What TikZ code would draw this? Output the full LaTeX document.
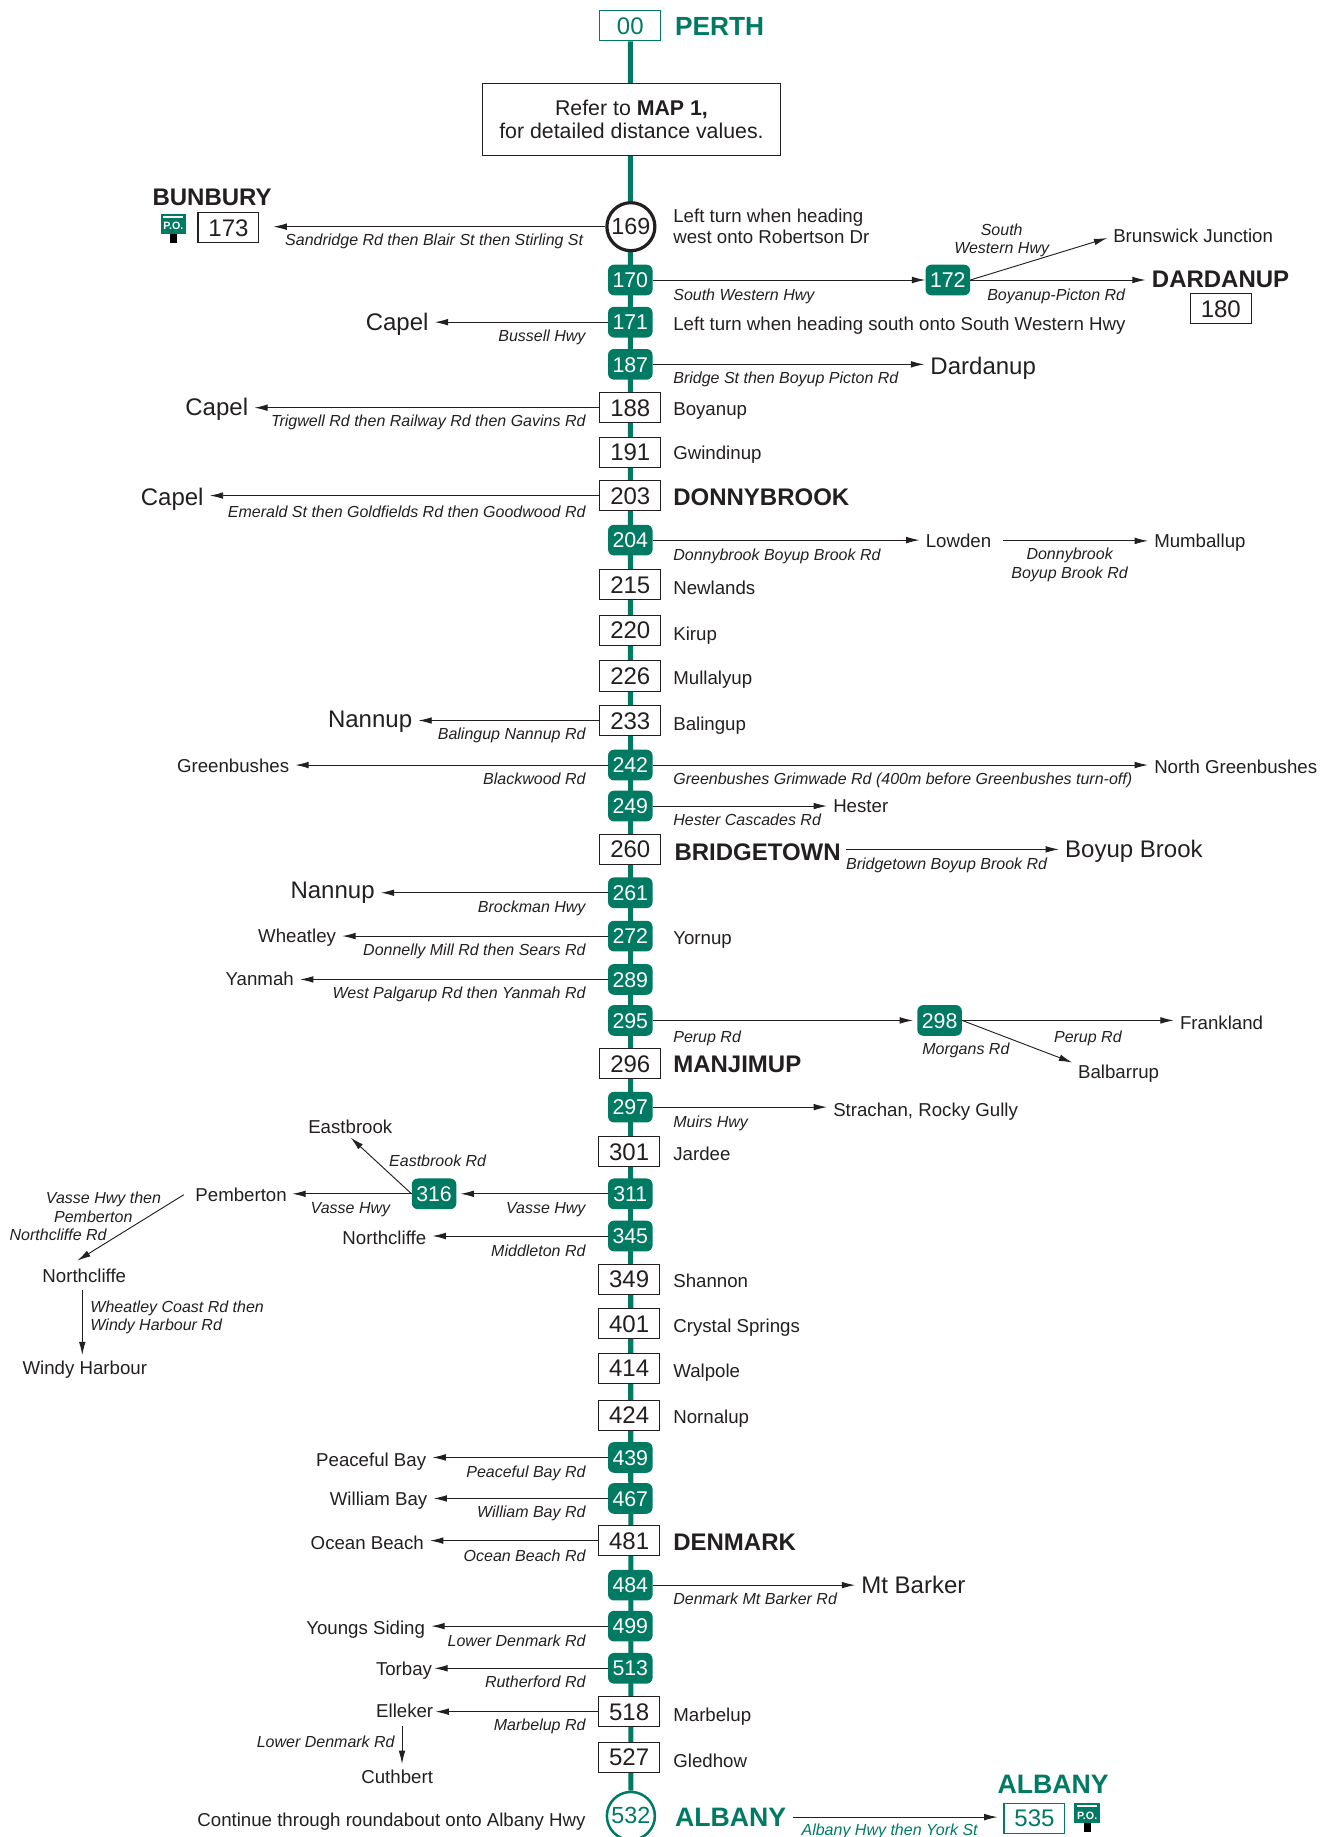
\documentclass[tikz,border=0pt]{standalone}
\usepackage{fontspec}
\setmainfont{Liberation Sans}
\usetikzlibrary{positioning,calc,arrows.meta,backgrounds}
\definecolor{roadgreen}{RGB}{0,122,99}
\definecolor{ink}{RGB}{35,31,32}
\tikzset{
    kmbox/.style={draw=ink, fill=white, line width=0.8pt, minimum width=45.7pt, minimum height=22.6pt, inner sep=0pt,
        font=\fontsize{18}{20}\selectfont, text height=12.9pt, text depth=0pt},
    kmbadge/.style={fill=roadgreen, rounded corners=4.5pt, minimum width=33.4pt, minimum height=23pt, inner sep=0pt,
        text=white, font=\fontsize{16}{18}\selectfont, text height=11.5pt, text depth=0pt},
    kmring/.style={draw=ink, fill=white, circle, line width=2.4pt, minimum size=36pt, inner sep=0pt,
        font=\fontsize{17.5}{20}\selectfont},
    town/.style={inner sep=0pt, yshift=-0.6pt, font=\fontsize{14}{15.8}\selectfont, text height=10pt, text depth=0pt},
    bigtown/.style={inner sep=0pt, font=\fontsize{18}{20}\selectfont, text height=12.9pt, text depth=0pt},
    headtown/.style={inner sep=0pt, font=\bfseries\fontsize{18}{20}\selectfont, text height=12.9pt, text depth=0pt},
    tealhead/.style={inner sep=0pt, text=roadgreen, font=\bfseries\fontsize{20}{22}\selectfont, text height=14.3pt, text depth=0pt},
    rdname/.style={inner sep=0pt, yshift=-0.5pt, font=\itshape\fontsize{12}{13.8}\selectfont, text height=8.6pt, text depth=0pt},
    rdnote/.style={inner sep=0pt, font=\itshape\fontsize{12}{13.8}\selectfont},
    road/.style={draw=ink, line width=0.7pt, -{Latex[length=10pt,width=5pt]}, shorten >=4.5pt},
    spine/.style={draw=roadgreen, line width=3.8pt},
    postbox/.pic={
        \fill[roadgreen] (-11,-8.5) rectangle (11,8.5);
        \fill[white] (-8.5,-6.5) rectangle (8.5,-5);
        \fill[black] (-3,8.5) rectangle (3,16);
        \node[text=white, inner sep=0pt, font=\bfseries\fontsize{8}{8}\selectfont] (text) at (0,2) {P.O.};
    }
}
\begin{document}
\begin{tikzpicture}[x=0.8787pt, y=-0.8787pt, color=ink]
    \useasboundingbox (0,0) rectangle (1133.5,1568);

    \foreach \x/\y/\km in {538/348/188,538/386/191,538/423/203,538/499/215,538/538/220,538/577/226,538/615/233,
        538/725/260,538/908/296,537/983/301,537/1092/349,537/1130/401,537/1168/414,537/1208/424,537/1315/481,
        537/1461/518,537/1500/527,195/194.5/173,1042/263.5/180} {
        \node[kmbox] (b\km) at (\x,\y) {\km};
    }
    \foreach \x/\y/\km in {538/239/170,538/275/171,538/311/187,538/461/204,538/653/242,538/688/249,538/762/261,
        538/799/272,538/836/289,538/871/295,538/945/297,538/1019/311,538/1055/345,538/1244/439,538/1279/467,
        538/1353/484,538/1388/499,538/1424/513,809/239/172,802/871/298,370.5/1019/316} {
        \node[kmbadge] (g\km) at (\x,\y) {\km};
    }
    \node[kmbox, draw=roadgreen, text=roadgreen] (b00) at (538,22) {00};
    \node[kmbox, draw=roadgreen, text=roadgreen] (b535) at (883,1552) {535};
    \node[kmring] (r169) at (538.5,193.5) {169};
    \node[kmring, draw=roadgreen, text=roadgreen, line width=1.9pt] (r532) at (538.5,1550) {532};
    \node[draw=ink, fill=white, line width=0.8pt, minimum width=223pt, minimum height=54.5pt, inner sep=0pt, align=center,
        font=\fontsize{16}{17.8}\selectfont] (refer) at (539,102) {Refer to \textbf{MAP 1,}\\for detailed distance values.};

    \begin{scope}[on background layer]
        \draw[spine] (b00) -- (r532);
    \end{scope}

    \node[tealhead, anchor=west, font=\bfseries\fontsize{19.7}{22}\selectfont] (perth) at (576,22) {PERTH};
    \node[tealhead, anchor=west] (albany) at (576,1551) {ALBANY};
    \node[tealhead, anchor=center] (albanypo) at (899,1523) {ALBANY};
    \node[headtown, anchor=west] (bunbury) at (130,168) {BUNBURY};
    \node[headtown, anchor=west] (dardanup) at (983,238) {DARDANUP};
    \node[headtown, anchor=west] (donnybrook) at (574.5,424) {DONNYBROOK};
    \node[headtown, anchor=west] (bridgetown) at (575.5,727) {BRIDGETOWN};
    \node[headtown, anchor=west] (manjimup) at (574.5,908) {MANJIMUP};
    \node[headtown, anchor=west] (denmark) at (574.5,1316) {DENMARK};

    \pic (pobunbury) at (148,191) {postbox};
    \pic (poalbany) at (928,1547.5) {postbox};

    \foreach \y/\place in {348/Boyanup,386/Gwindinup,501/Newlands,540/Kirup,578/Mullalyup,617/Balingup,800/Yornup,
        984/Jardee,1093/Shannon,1131/Crystal Springs,1169/Walpole,1209/Nornalup,1463/Marbelup,1502/Gledhow} {
        \node[town, anchor=west] (t\y) at (574.5,\y) {\place};
    }
    \node[town, anchor=west] (turnsouth) at (574.5,276) {Left turn when heading south onto South Western Hwy};
    \node[inner sep=0pt, anchor=west, align=left, font=\fontsize{14}{15.8}\selectfont] (turnwest) at (574.5,193.5)
        {Left turn when heading\\west onto Robertson Dr};
    \node[town, anchor=east] (continue) at (500,1553) {Continue through roundabout onto Albany Hwy};

    \foreach \from/\ly/\place/\xe/\ry/\rd in {
        b233/614/Nannup/352/626/Balingup Nannup Rd,
        g171/275/Capel/366/286/Bussell Hwy,
        b188/347/Capel/212/359/Trigwell Rd then Railway Rd then Gavins Rd,
        b203/424/Capel/174/436/Emerald St then Goldfields Rd then Goodwood Rd,
        g261/760/Nannup/320/773/Brockman Hwy} {
        \node[bigtown, anchor=east] (to\from) at (\xe,\ly) {\place};
        \node[rdname, anchor=east] (rd\from) at (500,\ry) {\rd};
        \draw[road] (\from) -- (\from -| to\from.east);
    }
    \foreach \from/\ly/\place/\xe/\ry/\rd in {
        g242/653/Greenbushes/247/664/Blackwood Rd,
        g272/798/Wheatley/287/810/Donnelly Mill Rd then Sears Rd,
        g289/835/Yanmah/251/847/West Palgarup Rd then Yanmah Rd,
        g345/1056/Northcliffe/364/1067/Middleton Rd,
        g439/1245/Peaceful Bay/364/1256/Peaceful Bay Rd,
        g467/1279/William Bay/365/1290/William Bay Rd,
        b481/1316/Ocean Beach/362/1327/Ocean Beach Rd,
        g499/1389/Youngs Siding/363/1400/Lower Denmark Rd} {
        \node[town, anchor=east] (to\from) at (\xe,\ly) {\place};
        \node[rdname, anchor=east] (rd\from) at (500,\ry) {\rd};
        \draw[road] (\from) -- (\from -| to\from.east);
    }
    \node[town, anchor=east] (torbay) at (369,1424) {Torbay};
    \node[rdname, anchor=east] (rdtorbay) at (500,1435) {Rutherford Rd};
    \draw[road, shorten >=1.5pt] (g513) -- (g513 -| torbay.east);
    \node[town, anchor=east] (elleker) at (370,1460) {Elleker};
    \node[rdname, anchor=east] (rdelleker) at (500,1472) {Marbelup Rd};
    \draw[road, shorten >=1.5pt] (b518) -- (b518 -| elleker.east);

    \foreach \from/\tx/\ly/\place/\ry/\rd in {
        g187/794/312/Dardanup/322/Bridge St then Boyup Picton Rd,
        g484/735/1353/Mt Barker/1364/Denmark Mt Barker Rd} {
        \node[bigtown, anchor=west] (to\from) at (\tx,\ly) {\place};
        \node[rdname, anchor=west] (rd\from) at (574.5,\ry) {\rd};
        \draw[road] (\from) -- (\from -| to\from.west);
    }
    \foreach \from/\tx/\ly/\place/\ry/\rd in {
        g204/790/461/Lowden/473/Donnybrook Boyup Brook Rd,
        g242/985/654/North Greenbushes/664/Greenbushes Grimwade Rd (400m before Greenbushes turn-off),
        g249/711/687/Hester/699/Hester Cascades Rd,
        g297/711/947/{Strachan, Rocky Gully}/957/Muirs Hwy} {
        \node[town, anchor=west] (to\from) at (\tx,\ly) {\place};
        \node[rdname, anchor=west] (rd\from) at (574.5,\ry) {\rd};
        \draw[road] (\from) -- (\from -| to\from.west);
    }

    \draw[road, shorten >=10.5pt] (r169) -- (r169 -| b173.east);
    \node[rdname, anchor=east] (rdbunbury) at (498,204) {Sandridge Rd then Blair St then Stirling St};

    \draw[road, shorten >=0pt] (g170) -- (g172);
    \node[rdname, anchor=west] (rdsouth) at (574.5,251) {South Western Hwy};
    \node[town, anchor=west] (brunswick) at (950,201) {Brunswick Junction};
    \node[rdnote, align=center] (rdbrunswick) at (855,205) {South\\Western Hwy};
    \draw[road] (g172.east) -- (brunswick.west);
    \draw[road] (g172) -- (g172 -| dardanup.west);
    \node[rdname, anchor=west] (rddardanup) at (842.5,251) {Boyanup-Picton Rd};

    \node[town, anchor=west] (mumballup) at (985,461) {Mumballup};
    \node[rdnote, align=center] (rdmumballup) at (913,482) {Donnybrook\\Boyup Brook Rd};
    \draw[road, shorten <=9pt] (tog204) -- (tog204 -| mumballup.west);

    \node[bigtown, anchor=west] (boyupbrook) at (909,725) {Boyup Brook};
    \node[rdname, anchor=west] (rdboyupbrook) at (722,737) {Bridgetown Boyup Brook Rd};
    \draw[road, shorten <=4pt] (b260 -| bridgetown.east) -- (b260 -| boyupbrook.west);

    \draw[road, shorten >=3pt] (g295) -- (g298);
    \node[rdname, anchor=west] (rdperup) at (574.5,884) {Perup Rd};
    \node[town, anchor=west] (frankland) at (1007,872) {Frankland};
    \node[rdname, anchor=west] (rdfrankland) at (899.5,884) {Perup Rd};
    \draw[road] (g298) -- (g298 -| frankland.west);
    \node[town, anchor=west] (balbarrup) at (920,914) {Balbarrup};
    \node[rdname, anchor=west] (rdbalbarrup) at (787,895) {Morgans Rd};
    \draw[road] (g298.east) -- (balbarrup.north west);

    \draw[road, shorten >=3pt] (g311) -- (g316);
    \node[rdname, anchor=east] (rdvasse) at (500,1030) {Vasse Hwy};
    \node[town, anchor=east] (pemberton) at (245,1019) {Pemberton};
    \node[rdname, anchor=west] (rdpemberton) at (265,1030) {Vasse Hwy};
    \draw[road, shorten >=4pt] (g316) -- (g316 -| pemberton.east);
    \node[town] (eastbrook) at (299,961) {Eastbrook};
    \node[rdname, anchor=west] (rdeastbrook) at (332,990) {Eastbrook Rd};
    \draw[road] (g316.west) -- ([xshift=-3pt]eastbrook.south);

    \foreach \x/\y/\rd in {39/1022/Vasse Hwy then,46/1038/Pemberton,8/1053/Northcliffe Rd} {
        \node[rdname, anchor=west] (rd\y) at (\x,\y) {\rd};
    }
    \coordinate (northtip) at (66,1076);
    \draw[road, shorten >=0pt, shorten <=10pt] (pemberton.north west) -- (northtip);
    \node[town, anchor=west] (northcliffe) at (36,1088) {Northcliffe};
    \node[town, anchor=west] (windy) at (19,1167) {Windy Harbour};
    \node[rdnote, anchor=north west, align=left] (rdwindy) at (77,1110) {Wheatley Coast Rd then\\Windy Harbour Rd};
    \draw[road, shorten <=6pt] ([xshift=-1.5pt]northcliffe.south) -- ([xshift=-1.5pt]northcliffe.south |- windy.north);

    \node[town] (cuthbert) at (339,1516) {Cuthbert};
    \node[rdname, anchor=west] (rdcuthbert) at (219,1486) {Lower Denmark Rd};
    \draw[road, shorten <=6pt] ([xshift=-2pt]elleker.south) -- ([xshift=-2pt]elleker.south |- cuthbert.north);

    \draw[road, shorten <=5pt] (albany) -- (albany -| b535.west);
    \node[rdname, anchor=west, text=roadgreen] (rdalbany) at (684,1561) {Albany Hwy then York St};
\end{tikzpicture}
\end{document}
